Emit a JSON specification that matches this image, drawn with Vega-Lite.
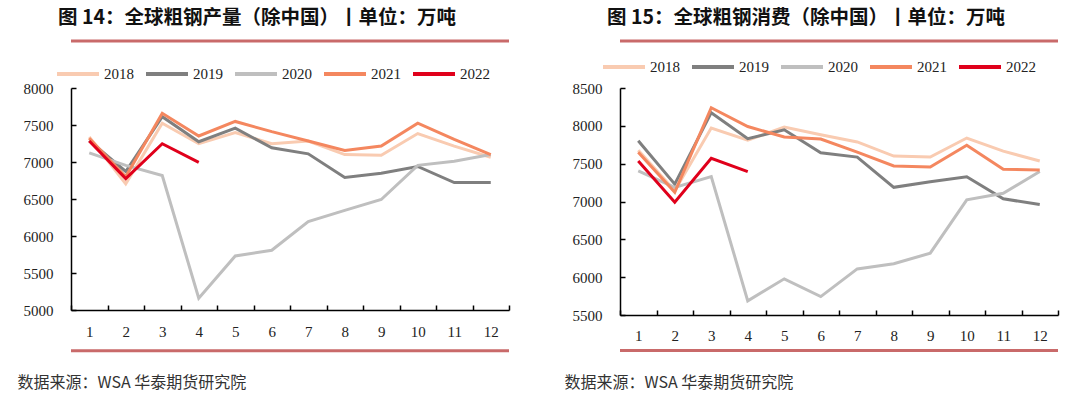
{
  "$schema": "https://vega.github.io/schema/vega-lite/v6.json",
  "padding": {"left": 17, "top": 8, "right": 5, "bottom": 5},
  "autosize": {"type": "pad"},
  "background": "white",
  "config": {
    "view": {"stroke": null},
    "font": "Liberation Serif",
    "axis": {"domainColor": "#000", "tickColor": "#000", "labelColor": "#222", "grid": false, "domainWidth": 1.5, "tickWidth": 1.5, "labelOverlap": false},
    "title": {"font": "Noto Sans CJK SC", "fontSize": 19.5, "fontWeight": "bold", "color": "#111", "anchor": "middle", "frame": "group", "offset": 11, "dx": -33}
  },
  "datasets": {
    "prod": [
      {"month": 1, "year": "2018", "value": 7338}, {"month": 2, "year": "2018", "value": 6705}, {"month": 3, "year": "2018", "value": 7525}, {"month": 4, "year": "2018", "value": 7247}, {"month": 5, "year": "2018", "value": 7397}, {"month": 6, "year": "2018", "value": 7247}, {"month": 7, "year": "2018", "value": 7284}, {"month": 8, "year": "2018", "value": 7100}, {"month": 9, "year": "2018", "value": 7092}, {"month": 10, "year": "2018", "value": 7384}, {"month": 11, "year": "2018", "value": 7215}, {"month": 12, "year": "2018", "value": 7064},
      {"month": 1, "year": "2019", "value": 7290}, {"month": 2, "year": "2019", "value": 6872}, {"month": 3, "year": "2019", "value": 7612}, {"month": 4, "year": "2019", "value": 7274}, {"month": 5, "year": "2019", "value": 7457}, {"month": 6, "year": "2019", "value": 7192}, {"month": 7, "year": "2019", "value": 7110}, {"month": 8, "year": "2019", "value": 6790}, {"month": 9, "year": "2019", "value": 6849}, {"month": 10, "year": "2019", "value": 6940}, {"month": 11, "year": "2019", "value": 6722}, {"month": 12, "year": "2019", "value": 6722},
      {"month": 1, "year": "2020", "value": 7123}, {"month": 2, "year": "2020", "value": 6955}, {"month": 3, "year": "2020", "value": 6818}, {"month": 4, "year": "2020", "value": 5160}, {"month": 5, "year": "2020", "value": 5730}, {"month": 6, "year": "2020", "value": 5808}, {"month": 7, "year": "2020", "value": 6196}, {"month": 8, "year": "2020", "value": 6347}, {"month": 9, "year": "2020", "value": 6493}, {"month": 10, "year": "2020", "value": 6955}, {"month": 11, "year": "2020", "value": 7011}, {"month": 12, "year": "2020", "value": 7100},
      {"month": 1, "year": "2021", "value": 7320}, {"month": 2, "year": "2021", "value": 6800}, {"month": 3, "year": "2021", "value": 7658}, {"month": 4, "year": "2021", "value": 7352}, {"month": 5, "year": "2021", "value": 7548}, {"month": 6, "year": "2021", "value": 7410}, {"month": 7, "year": "2021", "value": 7284}, {"month": 8, "year": "2021", "value": 7155}, {"month": 9, "year": "2021", "value": 7215}, {"month": 10, "year": "2021", "value": 7525}, {"month": 11, "year": "2021", "value": 7306}, {"month": 12, "year": "2021", "value": 7100},
      {"month": 1, "year": "2022", "value": 7284}, {"month": 2, "year": "2022", "value": 6775}, {"month": 3, "year": "2022", "value": 7247}, {"month": 4, "year": "2022", "value": 6996}
    ],
    "cons": [
      {"month": 1, "year": "2018", "value": 7678}, {"month": 2, "year": "2018", "value": 7143}, {"month": 3, "year": "2018", "value": 7970}, {"month": 4, "year": "2018", "value": 7809}, {"month": 5, "year": "2018", "value": 7983}, {"month": 6, "year": "2018", "value": 7883}, {"month": 7, "year": "2018", "value": 7787}, {"month": 8, "year": "2018", "value": 7600}, {"month": 9, "year": "2018", "value": 7587}, {"month": 10, "year": "2018", "value": 7839}, {"month": 11, "year": "2018", "value": 7665}, {"month": 12, "year": "2018", "value": 7535},
      {"month": 1, "year": "2019", "value": 7804}, {"month": 2, "year": "2019", "value": 7230}, {"month": 3, "year": "2019", "value": 8174}, {"month": 4, "year": "2019", "value": 7830}, {"month": 5, "year": "2019", "value": 7948}, {"month": 6, "year": "2019", "value": 7643}, {"month": 7, "year": "2019", "value": 7587}, {"month": 8, "year": "2019", "value": 7187}, {"month": 9, "year": "2019", "value": 7261}, {"month": 10, "year": "2019", "value": 7326}, {"month": 11, "year": "2019", "value": 7035}, {"month": 12, "year": "2019", "value": 6961},
      {"month": 1, "year": "2020", "value": 7404}, {"month": 2, "year": "2020", "value": 7187}, {"month": 3, "year": "2020", "value": 7330}, {"month": 4, "year": "2020", "value": 5687}, {"month": 5, "year": "2020", "value": 5978}, {"month": 6, "year": "2020", "value": 5743}, {"month": 7, "year": "2020", "value": 6109}, {"month": 8, "year": "2020", "value": 6178}, {"month": 9, "year": "2020", "value": 6317}, {"month": 10, "year": "2020", "value": 7022}, {"month": 11, "year": "2020", "value": 7109}, {"month": 12, "year": "2020", "value": 7396},
      {"month": 1, "year": "2021", "value": 7652}, {"month": 2, "year": "2021", "value": 7122}, {"month": 3, "year": "2021", "value": 8239}, {"month": 4, "year": "2021", "value": 7991}, {"month": 5, "year": "2021", "value": 7852}, {"month": 6, "year": "2021", "value": 7826}, {"month": 7, "year": "2021", "value": 7652}, {"month": 8, "year": "2021", "value": 7470}, {"month": 9, "year": "2021", "value": 7457}, {"month": 10, "year": "2021", "value": 7743}, {"month": 11, "year": "2021", "value": 7426}, {"month": 12, "year": "2021", "value": 7417},
      {"month": 1, "year": "2022", "value": 7535}, {"month": 2, "year": "2022", "value": 6991}, {"month": 3, "year": "2022", "value": 7570}, {"month": 4, "year": "2022", "value": 7396}
    ]
  },
  "spacing": 53,
  "resolve": {"scale": {"x": "independent", "y": "independent", "color": "independent"}, "legend": {"color": "independent"}, "axis": {"x": "independent", "y": "independent"}},
  "hconcat": [
    {
      "width": 438,
      "height": 222,
      "title": {"text": "图 14：全球粗钢产量（除中国）丨单位：万吨"},
      "resolve": {"scale": {"y": "independent"}, "axis": {"y": "independent"}},
      "layer": [
        {
          "data": {"values": [{"edge": 8635}, {"edge": 4450}]},
          "mark": {"type": "rule", "color": "#c96a6a", "strokeWidth": 3, "clip": false},
          "encoding": {"y": {"field": "edge", "type": "quantitative", "scale": {"domain": [5000, 8000], "nice": false, "zero": false}, "axis": null}}
        },
        {
          "data": {"name": "prod"},
          "mark": {"type": "line", "strokeWidth": 3},
          "encoding": {
            "x": {"field": "month", "type": "ordinal", "bandPosition": 0.5,
              "scale": {"type": "band", "paddingInner": 0, "paddingOuter": 0},
              "axis": {"title": "数据来源：WSA 华泰期货研究院", "titleX": -54, "titleY": 72, "titleAlign": "left", "titleAnchor": "start", "titleBaseline": "middle", "titleFont": "Noto Sans CJK SC", "titleFontSize": 16, "titleFontWeight": "normal", "titleColor": "#333", "labelAngle": 0, "labelFontSize": 15, "labelPadding": 19, "tickBand": "extent", "tickSize": -5}},
            "y": {"field": "value", "type": "quantitative",
              "scale": {"domain": [5000, 8000], "nice": false, "zero": false},
              "axis": {"title": null, "values": [5000, 5500, 6000, 6500, 7000, 7500, 8000], "format": "d", "labelOverlap": false, "labelFontSize": 15, "labelPadding": 23, "tickSize": -5}},
            "color": {"field": "year", "type": "nominal",
              "scale": {"domain": ["2018", "2019", "2020", "2021", "2022"], "range": ["#f9cbb1", "#7f7f7f", "#bfbfbf", "#f4875f", "#e0001b"]},
              "legend": {"title": null, "orient": "none", "legendX": -16, "legendY": -37, "direction": "horizontal", "symbolType": "stroke", "symbolSize": 1764, "symbolStrokeWidth": 4, "labelFontSize": 15, "labelFont": "Liberation Serif", "labelColor": "#222", "labelOffset": 3, "columnPadding": 4}}
          }
        }
      ]
    },
    {
      "width": 438,
      "height": 227,
      "title": {"text": "图 15：全球粗钢消费（除中国）丨单位：万吨"},
      "resolve": {"scale": {"y": "independent"}, "axis": {"y": "independent"}},
      "layer": [
        {
          "data": {"values": [{"edge": 9121}, {"edge": 5030}]},
          "mark": {"type": "rule", "color": "#c96a6a", "strokeWidth": 3, "clip": false},
          "encoding": {"y": {"field": "edge", "type": "quantitative", "scale": {"domain": [5500, 8500], "nice": false, "zero": false}, "axis": null}}
        },
        {
          "data": {"name": "cons"},
          "mark": {"type": "line", "strokeWidth": 3},
          "encoding": {
            "x": {"field": "month", "type": "ordinal", "bandPosition": 0.5,
              "scale": {"type": "band", "paddingInner": 0, "paddingOuter": 0},
              "axis": {"title": "数据来源：WSA 华泰期货研究院", "titleX": -56, "titleY": 67, "titleAlign": "left", "titleAnchor": "start", "titleBaseline": "middle", "titleFont": "Noto Sans CJK SC", "titleFontSize": 16, "titleFontWeight": "normal", "titleColor": "#333", "labelAngle": 0, "labelFontSize": 15, "labelPadding": 18, "tickBand": "extent", "tickSize": -5}},
            "y": {"field": "value", "type": "quantitative",
              "scale": {"domain": [5500, 8500], "nice": false, "zero": false},
              "axis": {"title": null, "values": [5500, 6000, 6500, 7000, 7500, 8000, 8500], "format": "d", "labelOverlap": false, "labelFontSize": 15, "labelPadding": 23, "tickSize": -5}},
            "color": {"field": "year", "type": "nominal",
              "scale": {"domain": ["2018", "2019", "2020", "2021", "2022"], "range": ["#f9cbb1", "#7f7f7f", "#bfbfbf", "#f4875f", "#e0001b"]},
              "legend": {"title": null, "orient": "none", "legendX": -19, "legendY": -44, "direction": "horizontal", "symbolType": "stroke", "symbolSize": 1764, "symbolStrokeWidth": 4, "labelFontSize": 15, "labelFont": "Liberation Serif", "labelColor": "#222", "labelOffset": 3, "columnPadding": 4}}
          }
        }
      ]
    }
  ]
}
